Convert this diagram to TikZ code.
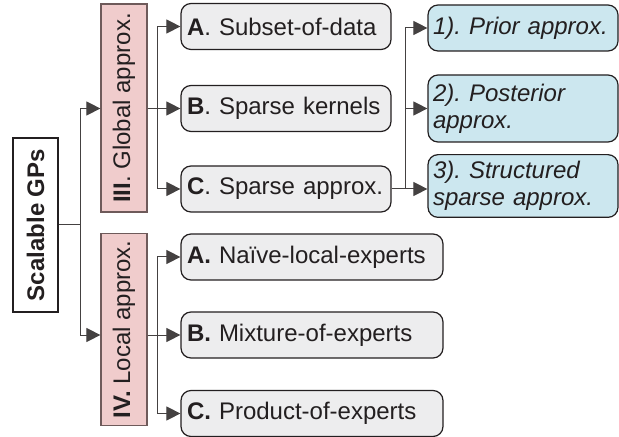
\documentclass[tikz,border=0pt]{standalone}
\usepackage{fontspec}
\setmainfont{Liberation Sans}
\usetikzlibrary{arrows.meta}

\definecolor{boxgrey}{HTML}{EDEDEE}
\definecolor{boxpink}{HTML}{F0CCCC}
\definecolor{boxblue}{HTML}{CCE7EF}
\definecolor{pinkline}{HTML}{6E5A5A}
\definecolor{ink}{HTML}{231F20}

\newcommand{\boxfont}{\fontsize{12}{13.5}\selectfont}
\frenchspacing

\tikzset{
    rootbox/.style={draw=ink, line width=0.6pt, rotate=90, minimum width=87pt, minimum height=22.5pt, font=\boxfont\bfseries},
    groupbox/.style={draw=pinkline, fill=boxpink, line width=0.6pt, rotate=90, minimum height=23pt},
    itembox/.style={draw=ink, fill=boxgrey, line width=0.6pt, rounded corners=5pt, minimum height=23pt, inner xsep=3pt, align=left},
    subbox/.style={draw=ink, fill=boxblue, line width=0.6pt, rounded corners=5pt, text width=90pt, inner xsep=2.5pt, align=left, font=\boxfont\itshape},
    link/.style={draw=ink!85, line width=0.5pt},
    arr/.style={link, -{Triangle[length=7pt,width=7pt]}}
}

\begin{document}
\begin{tikzpicture}[x=0.5pt, y=-0.5pt, font=\boxfont, text=ink]
    \useasboundingbox (0,0) rectangle (619,437);

    \node[rootbox] (root) at (35.5,225) {Scalable GPs};
    \node[groupbox, minimum width=104pt] (global) at (124,108) {\textbf{III}. Global approx.};
    \node[groupbox, minimum width=94.5pt] (local) at (124,329.5) {\textbf{IV.} Local approx.};

    \foreach \name/\y/\txt in {gA/26.5/\textbf{A}. Subset-of-data, gB/108.5/\textbf{B}. Sparse kernels, gC/189/\textbf{C}. Sparse approx.} {
        \node[itembox, text width=99pt] (\name) at (286,\y) {\txt};
    }
    \foreach \name/\y/\txt in {lA/257/\textbf{A.} Naïve-local-experts, lB/335/\textbf{B.} Mixture-of-experts, lC/413.5/\textbf{C.} Product-of-experts} {
        \node[itembox, text width=125pt] (\name) at (312,\y) {\txt};
    }

    \node[subbox, minimum height=23pt] (s1) at (523,28) {1). Prior approx.};
    \node[subbox, minimum height=33.5pt] (s2) at (523,108.5) {2). Posterior\\approx.};
    \node[subbox, minimum height=31pt] (s3) at (523,186) {3). Structured\\sparse approx.};

    \draw[link] (root.south) -- ++(22,0) coordinate (rj);
    \draw[arr] (rj) |- (global.north |- gB);
    \draw[arr] (rj) |- (local.north |- lB);

    \draw[link] (global.south |- gB) -- ++(10,0) coordinate (gj);
    \foreach \n in {gA,gB,gC} {
        \draw[arr] (gj) |- (\n.west);
    }
    \draw[link] (local.south |- lB) -- ++(10,0) coordinate (lj);
    \foreach \n in {lA,lB,lC} {
        \draw[arr] (lj) |- (\n.west);
    }

    \draw[link] (gC.east) -- ++(14,0) coordinate (sj);
    \draw[arr] (sj) |- (s1.west);
    \draw[arr] (sj) |- (s2.west);
    \draw[arr] (sj) -- (s3.west |- gC);
\end{tikzpicture}
\end{document}
